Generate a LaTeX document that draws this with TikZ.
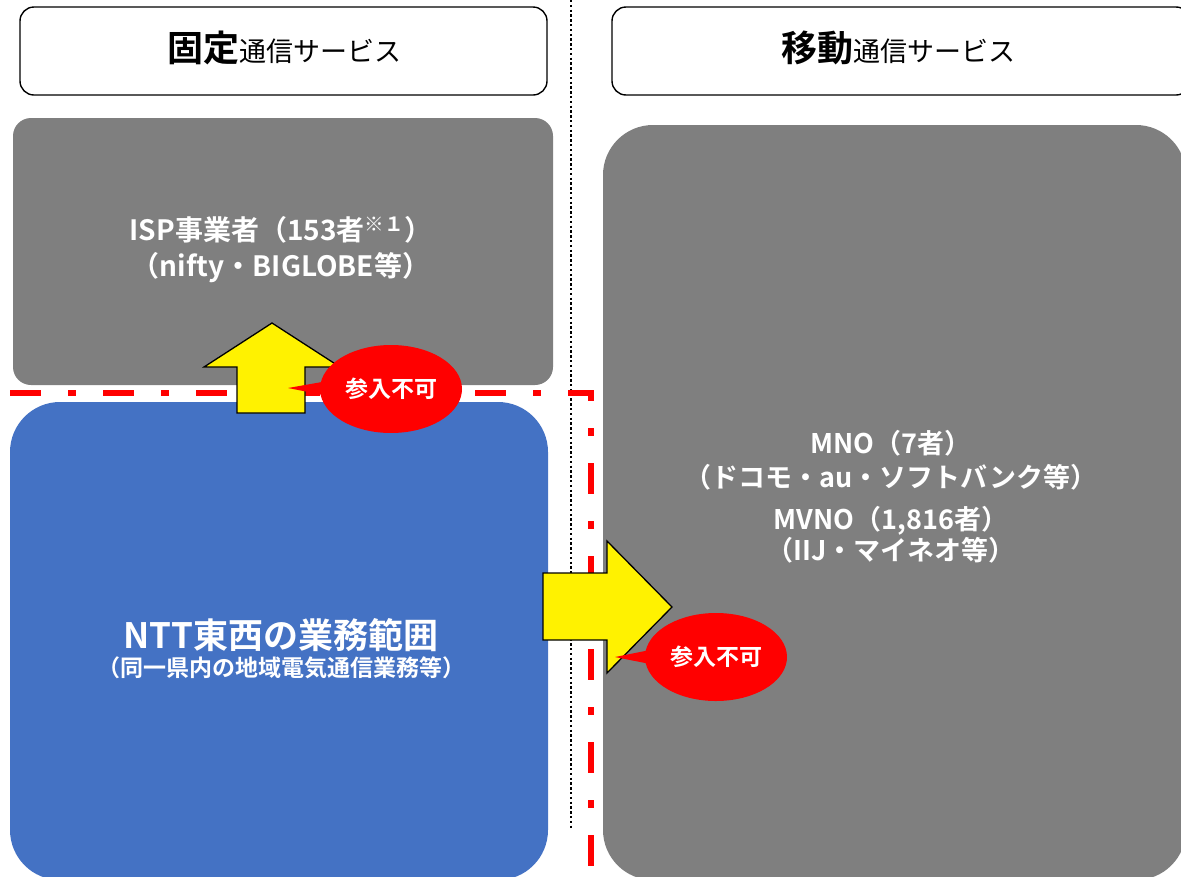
\documentclass[tikz,border=0pt]{standalone}
\usepackage{fontspec}
\setmainfont{Noto Sans CJK JP}[BoldFont={Noto Sans CJK JP Bold}]
\usetikzlibrary{shapes.callouts}

\definecolor{boxgray}{HTML}{7F7F7F}
\definecolor{nttblue}{HTML}{4472C4}

\begin{document}
\begin{tikzpicture}[x=1pt, y=-1pt,
  head/.style={draw=black, line width=1.4pt, fill=white, rounded corners=14pt},
  area/.style={rounded corners=#1},
  lbl/.style={text=white, align=center, font=\fontsize{28}{36}\selectfont\bfseries},
  yarr/.style={draw=black, line width=1.3pt, fill=yellow, line join=miter},
  ng/.style={ellipse callout, fill=red, text=white, minimum width=142pt,
             minimum height=88pt, inner sep=0pt, callout pointer arc=16,
             font=\fontsize{23}{26}\selectfont\bfseries}
]
  \useasboundingbox (0,0) rectangle (1181,876);

  % header boxes
  \draw[head] (20,7) rectangle (547,95);
  \draw[head] (612,7) rectangle (1190,95);
  \node (fixed) at (284,48) {{\fontsize{36}{40}\selectfont\bfseries 固定}{\fontsize{27}{30}\selectfont 通信サービス}};
  \node (mobile) at (898,48) {{\fontsize{36}{40}\selectfont\bfseries 移動}{\fontsize{27}{30}\selectfont 通信サービス}};

  % service areas
  \fill[boxgray, area=18pt] (13,118) rectangle (553,385);
  \fill[nttblue, area=50pt] (10,402) rectangle (548,880);
  \fill[boxgray, area=50pt] (603,125) rectangle (1186,880);

  \node[lbl] (isp) at (281,250) {ISP事業者（153者\textsuperscript{※１}）\\（nifty・BIGLOBE等）};
  \node[lbl, font=\fontsize{35}{44}\selectfont\bfseries] (ntt) at (281,635) {NTT東西の業務範囲};
  \node[lbl, font=\fontsize{23}{26}\selectfont\bfseries] (nttsub) at (281,668) {（同一県内の地域電気通信業務等）};
  \node[lbl, font=\fontsize{27}{34}\selectfont\bfseries] (mno) at (891,460) {MNO（7者）\\（ドコモ・au・ソフトバンク等）};
  \node[lbl, font=\fontsize{27}{31}\selectfont\bfseries] (mvno) at (891,535) {MVNO（1,816者）\\（IIJ・マイネオ等）};

  % boundaries
  \draw[line width=2.4pt, dash pattern=on 2.4pt off 2.4pt] (571,0) -- (571,828);
  \draw[red, line width=6pt, dash pattern=on 31pt off 27pt on 8pt off 27pt]
    (10,393) -- (591,393) -- (591,880);

  % entry arrows
  \draw[yarr] (237,413) -- (237,367) -- (204,367) -- (272,323) -- (340,367)
    -- (305,367) -- (305,413) -- cycle;
  \draw[yarr] (543,573) -- (607,573) -- (607,541) -- (672,607) -- (607,673)
    -- (607,640) -- (543,640) -- cycle;

  \coordinate (up) at (288,388);
  \coordinate (side) at (615,657);
  \node[ng, callout absolute pointer={(up)}] (ng1) at (391,389) {参入不可};
  \node[ng, callout absolute pointer={(side)}] (ng2) at (716,657) {参入不可};
\end{tikzpicture}
\end{document}
